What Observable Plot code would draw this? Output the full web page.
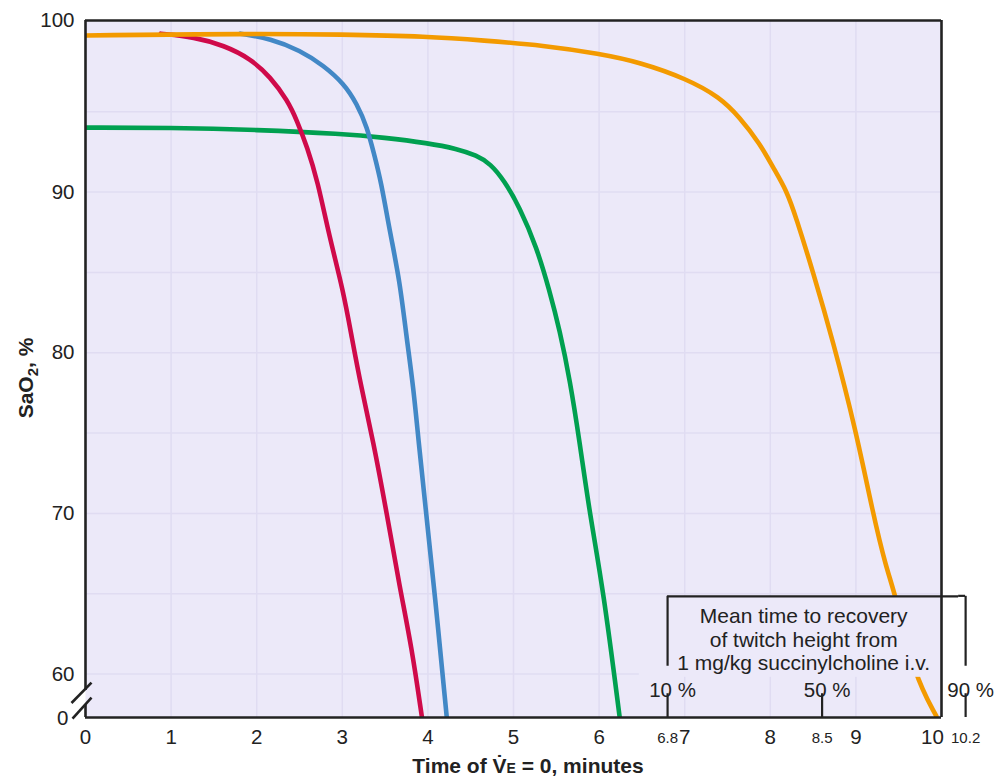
<!DOCTYPE html>
<html><head><meta charset="utf-8">
<script src="https://cdn.jsdelivr.net/npm/d3@7"></script>
<script src="https://cdn.jsdelivr.net/npm/@observablehq/plot@0.6"></script>
<style>body{margin:0;background:#fff} svg{display:block}</style>
</head><body><div id="chart"></div>
<script>
// ---- data (minutes, SaO2 %) ----
const greenT = [0, 0.99, 2.01, 3.0, 3.49, 4.0, 4.34, 4.57, 4.73, 4.89, 5.07, 5.27, 5.42, 5.54, 5.66, 5.77, 5.89, 6.05, 6.24];
const greenS = [94.01, 94.01, 93.88, 93.63, 93.39, 93.05, 92.70, 92.28, 91.77, 90.73, 89.07, 86.58, 83.88, 81.39, 78.28, 74.55, 69.99, 65.21, 57.33];
const redT = [0.88, 1.27, 1.62, 1.93, 2.16, 2.36, 2.47, 2.59, 2.71, 2.85, 3.01, 3.11, 3.22, 3.36, 3.52, 3.67, 3.81, 3.93];
const redS = [99.86, 99.65, 99.13, 98.30, 97.16, 95.71, 94.46, 92.80, 90.73, 87.20, 83.88, 80.98, 77.87, 74.55, 69.99, 65.42, 61.69, 57.33];
const blueT = [1.81, 2.16, 2.51, 2.78, 3.02, 3.17, 3.29, 3.37, 3.45, 3.56, 3.67, 3.75, 3.83, 3.89, 3.98, 4.08, 4.22];
const blueS = [99.86, 99.55, 98.82, 97.88, 96.75, 95.50, 94.04, 92.39, 90.73, 87.41, 84.51, 80.98, 77.87, 74.55, 69.99, 65.01, 57.33];
const orangeT = [0, 1.93, 2.99, 4.0, 4.65, 5.35, 6.01, 6.47, 7.02, 7.41, 7.64, 7.88, 8.03, 8.19, 8.30, 8.50, 8.73, 9.0, 9.2, 9.35, 9.47, 9.68, 9.94];
const orangeS = [99.75, 99.86, 99.81, 99.69, 99.44, 99.13, 98.61, 98.09, 97.06, 95.91, 94.67, 93.01, 91.56, 90.11, 88.44, 85.02, 80.77, 75.17, 69.99, 66.67, 64.80, 59.93, 57.38];

const xTicks = [0, 1, 2, 3, 4, 5, 6, 7, 8, 9, 10];
const yTicks = [60, 70, 80, 90, 100];
const yGrid = [60, 65, 70, 75, 80, 85, 90, 95];
const recoveryTimes = [6.8, 8.5, 10.2];
const recoveryLabels = ["10 %", "50 %", "90 %"];
const boxText = ["Mean time to recovery", "of twitch height from", "1 mg/kg succinylcholine i.v."];

// ---- layout constants ----
const yMin = 57.3, yMax = 100.68;
const boxTop = 64.84, boxStemEnd = 60.49, tickTop = 58.78;
const recoveryShift = [0, 9, 7];  // schematic drawing offsets (px) of the original figure
const BG = "#ECE9F9", GRID = "#E0DCF2", INK = "#222";
const FONT = "'Liberation Sans', Arial, Helvetica, sans-serif";

const toRows = (T, S) => T.map((t, i) => ({t, s: S[i]}));
const series = [
  {rows: toRows(greenT, greenS), color: "#00A050"},
  {rows: toRows(redT, redS), color: "#CF0A4A"},
  {rows: toRows(blueT, blueS), color: "#4288C6"},
  {rows: toRows(orangeT, orangeS), color: "#F39A00"}
];

const txt = {fill: INK, fontFamily: FONT};
const SW = 2.2;

const marks = [
  Plot.frame({fill: BG, stroke: null}),
  Plot.ruleX(xTicks.slice(1, -1), {stroke: GRID, strokeWidth: 1.5}),
  Plot.ruleY(yGrid, {stroke: GRID, strokeWidth: 1.5}),
  ...series.map(s => Plot.line(s.rows, {x: "t", y: "s", stroke: s.color, strokeWidth: 4.6, curve: "basis", clip: true})),
  // annotation background
  Plot.rect([0], {x1: 6.47, x2: 10, y1: 59.8, y2: boxTop, fill: BG}),
  // frame
  Plot.ruleY([yMin, yMax], {x1: 0, x2: 10, stroke: INK, strokeWidth: 2.6}),
  Plot.ruleX([10], {y1: yMin, y2: yMax, stroke: INK, strokeWidth: 2.6}),
  Plot.ruleX([0], {y1: 58.98, y2: yMax, stroke: INK, strokeWidth: 2.6}),
  Plot.ruleX([0], {y1: yMin, y2: 58.1, stroke: INK, strokeWidth: 2.6}),
  // annotation box top
  Plot.ruleY([boxTop], {x1: recoveryTimes[0], x2: recoveryTimes[2], dx: 0, stroke: INK, strokeWidth: SW, clip: false}),
  ...recoveryTimes.map((t, i) => [
    Plot.ruleX([t], {y1: yMin, y2: tickTop, dx: recoveryShift[i], stroke: INK, strokeWidth: SW}),
    Plot.text([recoveryLabels[i]], {x: t, y: 59.0, text: d => d, dx: recoveryShift[i] + (i === 2 ? 5 : 5), fontSize: 20.5, lineAnchor: "middle", ...txt}),
    Plot.text([t], {x: t, y: yMin, text: d => String(d), dx: recoveryShift[i], dy: 21, fontSize: 15, lineAnchor: "middle", ...txt})
  ]).flat(),
  Plot.ruleX([recoveryTimes[0]], {y1: boxStemEnd, y2: boxTop, stroke: INK, strokeWidth: SW}),
  Plot.ruleX([recoveryTimes[2]], {y1: boxStemEnd, y2: boxTop, dx: recoveryShift[2], stroke: INK, strokeWidth: SW}),
  Plot.text([boxText.join("\n")], {x: 8.39, y: 62.17, text: d => d, fontSize: 21, lineHeight: 1.12, lineAnchor: "middle", ...txt}),
  // x tick labels
  Plot.text(xTicks.slice(0, -1), {x: d => d, y: yMin, text: d => String(d), dy: 20, fontSize: 20.5, lineAnchor: "middle", ...txt}),
  Plot.text(xTicks.slice(-1), {x: d => d, y: yMin, text: d => String(d), dy: 20, dx: -9, fontSize: 20.5, lineAnchor: "middle", ...txt}),
  // y tick labels
  Plot.text(yTicks.slice(0, -1), {x: 0, y: d => d, text: d => String(d), dx: -11, textAnchor: "end", fontSize: 20.5, lineAnchor: "middle", ...txt}),
  Plot.text(yTicks.slice(-1), {x: 0, y: yMax, text: d => String(d), dx: -11, textAnchor: "end", fontSize: 20.5, lineAnchor: "middle", ...txt}),
  Plot.text(["0"], {x: 0, y: yMin, text: d => d, dx: -17, dy: 1, textAnchor: "end", fontSize: 20.5, lineAnchor: "middle", ...txt})
];

const plot = Plot.plot({
  width: 1008, height: 781,
  marginLeft: 85, marginRight: 67, marginTop: 20, marginBottom: 64,
  style: {fontFamily: FONT, background: "#fff", overflow: "visible"},
  x: {domain: [0, 10], axis: null},
  y: {domain: [yMin, yMax], axis: null},
  marks
});

document.getElementById("chart").appendChild(plot);

const svg = d3.select(plot);
const xs = plot.scale("x"), ys = plot.scale("y");
// extend box top line to the shifted 90 % stem
svg.append("line").attr("x1", xs.apply(recoveryTimes[2])).attr("x2", xs.apply(recoveryTimes[2]) + recoveryShift[2])
  .attr("y1", ys.apply(boxTop)).attr("y2", ys.apply(boxTop)).attr("stroke", INK).attr("stroke-width", SW);

// axis break slashes
const cx = xs.apply(0), cy = ys.apply(yMin);
const g = svg.append("g").attr("stroke", INK).attr("stroke-width", 2.6);
g.append("line").attr("x1", cx - 13.5).attr("y1", cy - 14).attr("x2", cx + 6.5).attr("y2", cy - 34.4);
g.append("line").attr("x1", cx - 12.5).attr("y1", cy + 1.6).attr("x2", cx + 6.5).attr("y2", cy - 19.4);

// axis titles
const xt = svg.append("text").attr("x", 528).attr("y", 773).attr("text-anchor", "middle")
  .attr("font-family", FONT).attr("font-weight", "bold").attr("font-size", 21).attr("fill", INK);
xt.append("tspan").text("Time of V\u0307");
xt.append("tspan").attr("font-size", 14).text("E");
xt.append("tspan").text(" = 0, minutes");

const yt = svg.append("text").attr("transform", "translate(33,378) rotate(-90)").attr("text-anchor", "middle")
  .attr("font-family", FONT).attr("font-weight", "bold").attr("font-size", 21).attr("fill", INK);
yt.append("tspan").text("SaO");
yt.append("tspan").attr("font-size", 15).attr("dy", 5).text("2");
yt.append("tspan").attr("dy", -5).text(", %");
</script>
</body></html>
